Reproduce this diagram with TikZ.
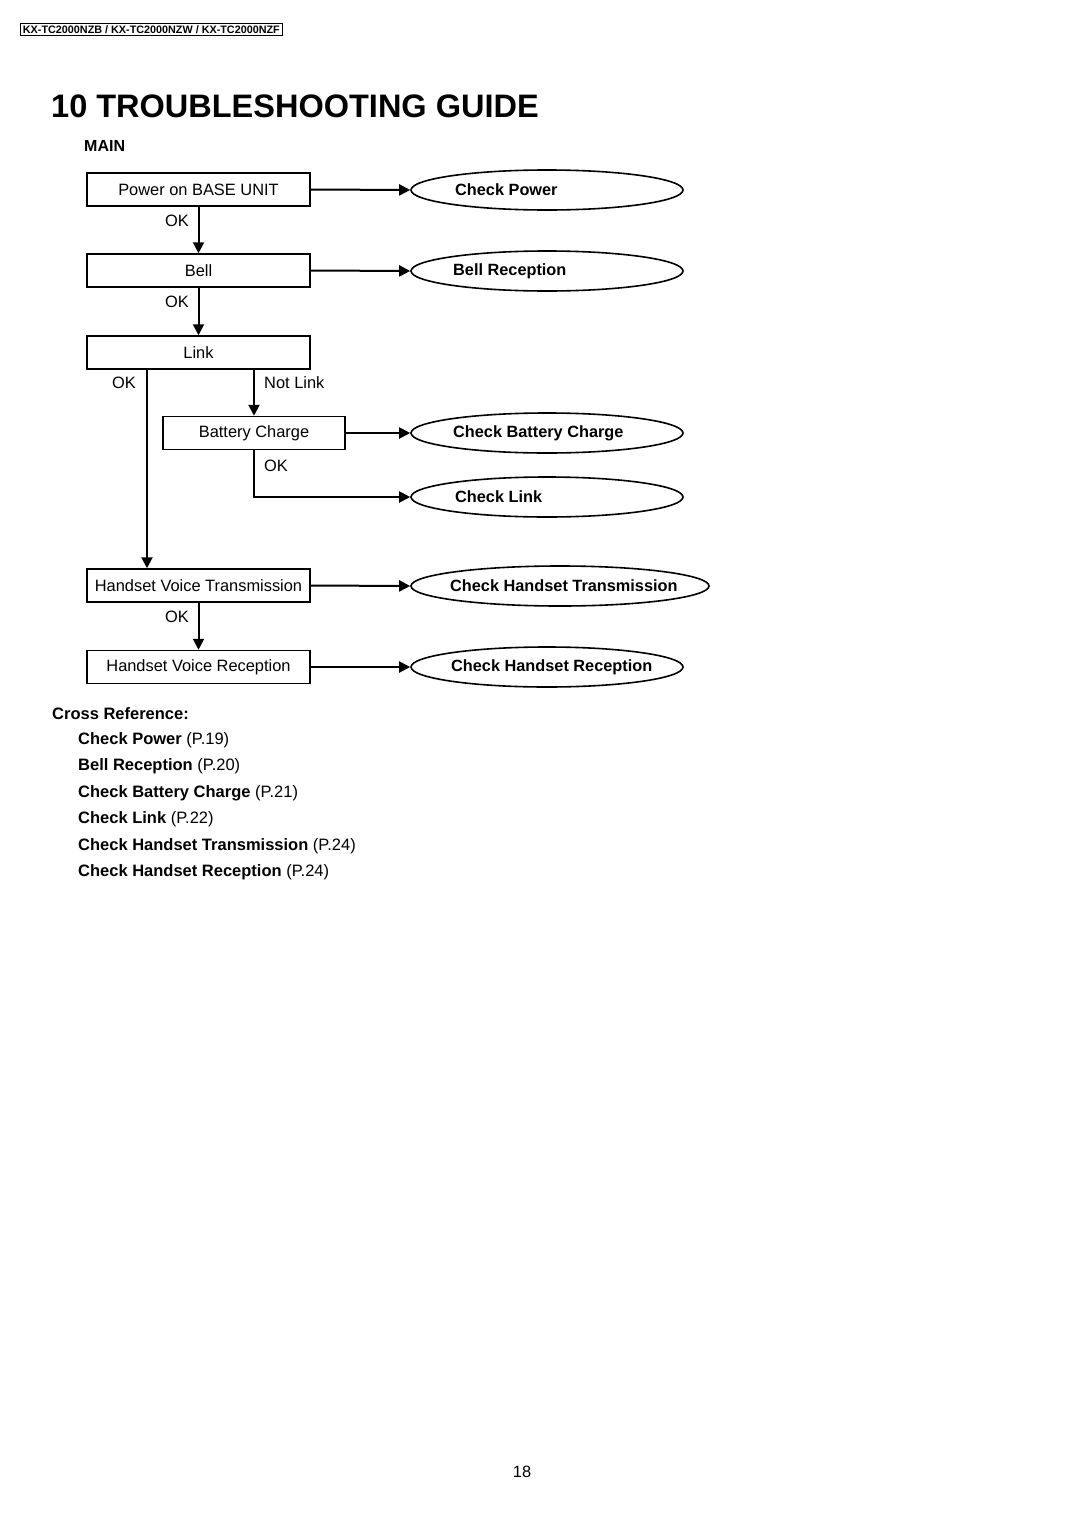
\documentclass[tikz,border=0pt]{standalone}
\usepackage{fontspec}
\setmainfont{Liberation Sans}
\usetikzlibrary{arrows.meta,shapes.geometric}
\begin{document}
\begin{tikzpicture}[x=1pt,y=-1pt,
  box/.style={draw,line width=1.5pt,minimum width=223pt,minimum height=33pt,inner sep=0pt,font=\fontsize{16.4}{18}\selectfont},
  chk/.style={draw,ellipse,line width=1.6pt,minimum width=272pt,minimum height=40pt,inner sep=0pt},
  chktxt/.style={anchor=west,inner sep=0pt,font=\fontsize{16.3}{18}\selectfont\bfseries},
  lbl/.style={inner sep=0pt,font=\fontsize{16.4}{18}\selectfont},
  arr/.style={line width=2pt,-{Triangle[length=11pt,width=11pt]}},
  ref/.style={anchor=west,inner sep=0pt,font=\fontsize{16.5}{18}\selectfont}]
\useasboundingbox[fill=white] (0,0) rectangle (1080,1528);
% header
\node[draw,line width=0.9pt,anchor=west,inner xsep=2.5pt,inner ysep=1.8pt,font=\fontsize{10.8}{12}\selectfont\bfseries] (hdr) at (20,29.5) {KX-TC2000NZB / KX-TC2000NZW / KX-TC2000NZF};
\node[anchor=base west,inner sep=0pt,font=\fontsize{32.5}{36}\selectfont\bfseries] (title) at (51,117) {10 TROUBLESHOOTING GUIDE};
\node[anchor=west,inner sep=0pt,font=\fontsize{16}{18}\selectfont\bfseries] (main) at (84,146) {MAIN};
% boxes
\node[box] (b1) at (198.5,189.5) {Power on BASE UNIT};
\node[box] (b2) at (198.5,270.5) {Bell};
\node[box] (b3) at (198.5,352.5) {Link};
\node[box,minimum width=182pt] (b4) at (254,433) {Battery Charge};
\node[box] (b5) at (198.5,585.5) {Handset Voice Transmission};
\node[box] (b6) at (198.5,667) {Handset Voice Reception};
% ellipses
\node[chk] (e1) at (547,190) {};
\node[chk] (e2) at (547,271) {};
\node[chk] (e3) at (547,433) {};
\node[chk] (e4) at (547,497) {};
\node[chk,minimum width=298pt] (e5) at (560,586) {};
\node[chk] (e6) at (547,667) {};
\node[chktxt] (t1) at (455,190) {Check Power};
\node[chktxt] (t2) at (453,271) {Bell Reception};
\node[chktxt] (t3) at (453,433) {Check Battery Charge};
\node[chktxt] (t4) at (455,497) {Check Link};
\node[chktxt] (t5) at (450,586) {Check Handset Transmission};
\node[chktxt] (t6) at (451,667) {Check Handset Reception};
% connectors
\coordinate (okx) at (147,0);
\draw[arr] (b1.east) -- (e1.west);
\draw[arr] (b2.east) -- (e2.west);
\draw[arr] (b4.east) -- (e3.west);
\draw[arr] (b5.east) -- (e5.west);
\draw[arr] (b6.east) -- (e6.west);
\draw[arr] (b1.south) -- (b2.north);
\draw[arr] (b2.south) -- (b3.north);
\draw[arr] (b5.south) -- (b6.north);
\draw[arr] (b3.south -| okx) -- (b5.north -| okx);
\draw[arr] (b3.south -| b4.north) -- (b4.north);
\draw[arr] (b4.south) -- (b4.south |- e4.west) -- (e4.west);
% labels
\node[lbl,anchor=east] (ok1) at (189,221) {OK};
\node[lbl,anchor=east] (ok2) at (189,302) {OK};
\node[lbl,anchor=east] (ok3) at (136,383) {OK};
\node[lbl,anchor=west] (nl) at (264,383) {Not Link};
\node[lbl,anchor=west] (ok4) at (264,466) {OK};
\node[lbl,anchor=east] (ok5) at (189,617) {OK};
% cross reference
\node[ref] (cr) at (52,714) {\bfseries Cross Reference:};
\node[ref] (r1) at (78,740) {\textbf{Check Power} (P.19)};
\node[ref] (r2) at (78,766) {\textbf{Bell Reception} (P.20)};
\node[ref] (r3) at (78,793) {\textbf{Check Battery Charge} (P.21)};
\node[ref] (r4) at (78,819) {\textbf{Check Link} (P.22)};
\node[ref] (r5) at (78,846) {\textbf{Check Handset Transmission} (P.24)};
\node[ref] (r6) at (78,872) {\textbf{Check Handset Reception} (P.24)};
\node[lbl] (pg) at (522,1472) {18};
\end{tikzpicture}
\end{document}
